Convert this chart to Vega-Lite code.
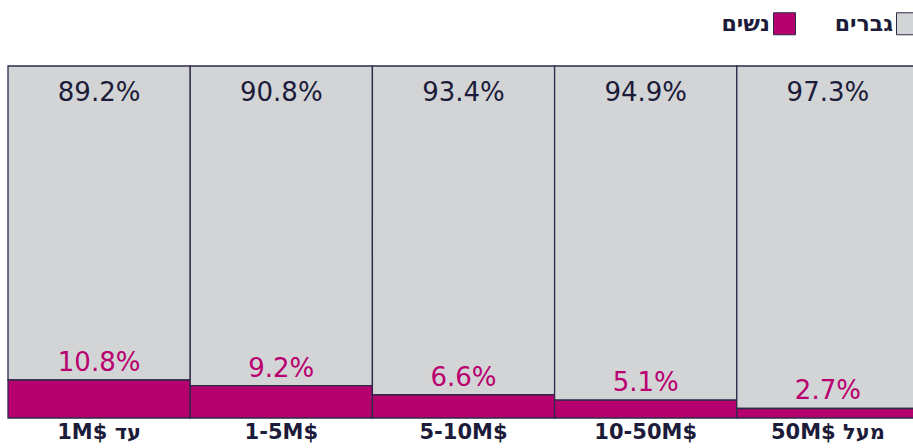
{
  "$schema": "https://vega.github.io/schema/vega-lite/v6.json",
  "width": 911,
  "height": 352,
  "autosize": "none",
  "padding": {"left": 8, "top": 66, "right": 0, "bottom": 30},
  "background": "white",
  "config": {"view": {"stroke": null}, "font": "DejaVu Sans"},
  "data": {"values": [
    {"cat": "1M$ עד", "gender": "גברים", "value": 0.892},
    {"cat": "1M$ עד", "gender": "נשים", "value": 0.108},
    {"cat": "1-5M$", "gender": "גברים", "value": 0.908},
    {"cat": "1-5M$", "gender": "נשים", "value": 0.092},
    {"cat": "5-10M$", "gender": "גברים", "value": 0.934},
    {"cat": "5-10M$", "gender": "נשים", "value": 0.066},
    {"cat": "10-50M$", "gender": "גברים", "value": 0.949},
    {"cat": "10-50M$", "gender": "נשים", "value": 0.051},
    {"cat": "50M$ מעל", "gender": "גברים", "value": 0.973},
    {"cat": "50M$ מעל", "gender": "נשים", "value": 0.027}
  ]},
  "encoding": {
    "x": {"field": "cat", "type": "nominal", "sort": null,
      "scale": {"paddingInner": 0, "paddingOuter": 0},
      "axis": {"title": null, "labelAngle": 0, "ticks": false, "domain": false,
        "labelFontSize": 21, "labelFontWeight": "bold", "labelColor": "#1c1c3a",
        "labelPadding": 3, "labelFont": "DejaVu Sans"}}
  },
  "layer": [
    {
      "mark": {"type": "bar", "stroke": "#2d2b4a", "strokeWidth": 1.3},
      "encoding": {
        "y": {"field": "value", "type": "quantitative", "stack": "zero",
          "scale": {"domain": [0, 1], "nice": false}, "axis": null},
        "color": {"field": "gender", "type": "nominal",
          "scale": {"domain": ["נשים", "גברים"], "range": ["#b5006e", "#d3d4d6"]},
          "legend": {"title": null, "orient": "none", "legendX": 765, "legendY": -54,
            "direction": "horizontal",
            "symbolType": "square", "symbolSize": 484,
            "symbolStrokeColor": "#2d2b4a", "symbolStrokeWidth": 1,
            "labelFontSize": 22, "labelFontWeight": "bold", "labelColor": "#1c1c3a",
            "labelAlign": "right", "labelOffset": -26, "columnPadding": 36,
            "labelFont": "DejaVu Sans"}},
        "order": {"field": "gender", "sort": "descending"}
      }
    },
    {
      "transform": [{"filter": "datum.gender == 'גברים'"}],
      "mark": {"type": "text", "baseline": "middle", "dy": 27, "fontSize": 26, "color": "#1c1c3a"},
      "encoding": {
        "y": {"datum": 1, "type": "quantitative"},
        "text": {"field": "value", "type": "quantitative", "format": ".1%"}
      }
    },
    {
      "transform": [{"filter": "datum.gender == 'נשים'"}],
      "mark": {"type": "text", "baseline": "middle", "dy": -17, "fontSize": 26, "color": "#b8006f"},
      "encoding": {
        "y": {"field": "value", "type": "quantitative"},
        "text": {"field": "value", "type": "quantitative", "format": ".1%"}
      }
    }
  ]
}
